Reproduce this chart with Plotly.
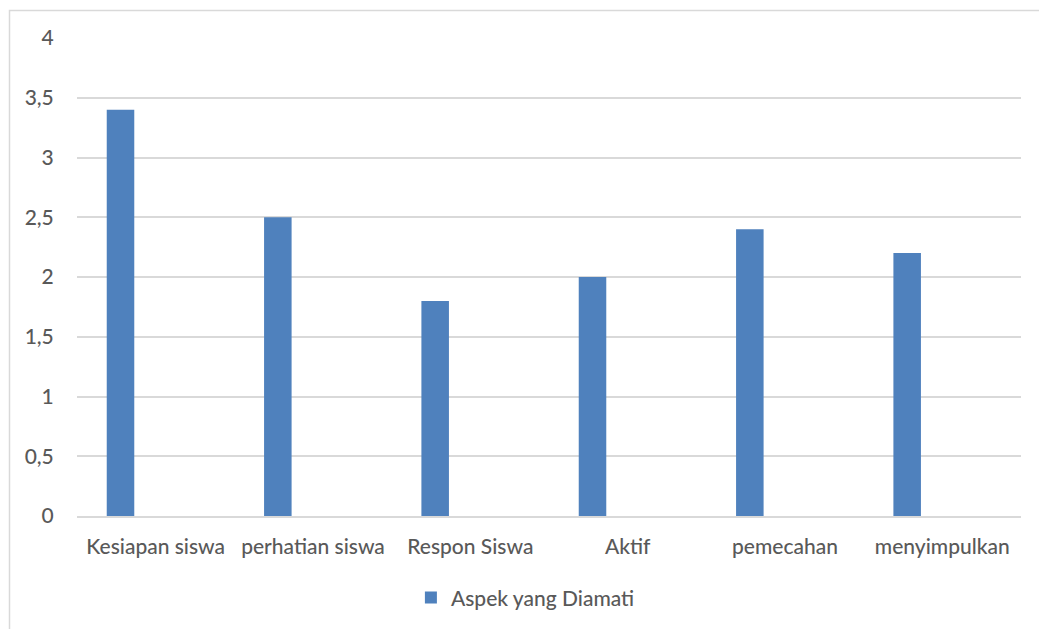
import plotly.graph_objects as go

categories = ["Kesiapan siswa", "perhatian siswa", "Respon Siswa", "Aktif", "pemecahan", "menyimpulkan"]
values = [3.4, 2.5, 1.8, 2.0, 2.4, 2.2]
series_name = "Aspek yang Diamati"
y_tickvals = [0, 0.5, 1, 1.5, 2, 2.5, 3, 3.5, 4]
y_ticktext = ["0", "0,5", "1", "1,5", "2", "2,5", "3", "3,5", "4"]

FONT = "Lato"
TXT = "#595959"
GRID = "#d9d9d9"
BAR = "#4f81bd"
fnt = dict(family=FONT, size=21, color=TXT, weight=500)

fig = go.Figure()
fig.add_trace(go.Bar(
    x=categories, y=values, name=series_name,
    marker=dict(color=BAR, line=dict(width=0)),
    offset=-0.311, width=0.175,
    showlegend=True,
))

fig.update_layout(
    width=1039, height=629,
    margin=dict(l=77, r=18, t=38, b=112),
    paper_bgcolor="white", plot_bgcolor="white",
    font=fnt,
    showlegend=True,
    legend=dict(orientation="h", x=0.475, xanchor="center", y=-0.169, yanchor="middle",
                font=fnt, itemwidth=30),
    xaxis=dict(showgrid=False, showline=True, linecolor=GRID, linewidth=2,
               ticks="outside", ticklen=11, tickcolor="rgba(0,0,0,0)",
               tickfont=fnt),
    yaxis=dict(range=[0, 4], tickvals=y_tickvals, ticktext=y_ticktext,
               showgrid=True, gridcolor=GRID, gridwidth=2, zeroline=False,
               showline=False, ticks="outside", ticklen=18, tickcolor="rgba(0,0,0,0)",
               tickfont=fnt),
    shapes=[dict(type="rect", xref="paper", yref="paper",
                 x0=(9.5 - 77) / 944, x1=(1045 - 77) / 944,
                 y0=(517 - 640) / 479, y1=(517 - 10.5) / 479,
                 line=dict(color=GRID, width=1.5), fillcolor="rgba(0,0,0,0)", layer="below")],
)

fig.write_html("out.html")
